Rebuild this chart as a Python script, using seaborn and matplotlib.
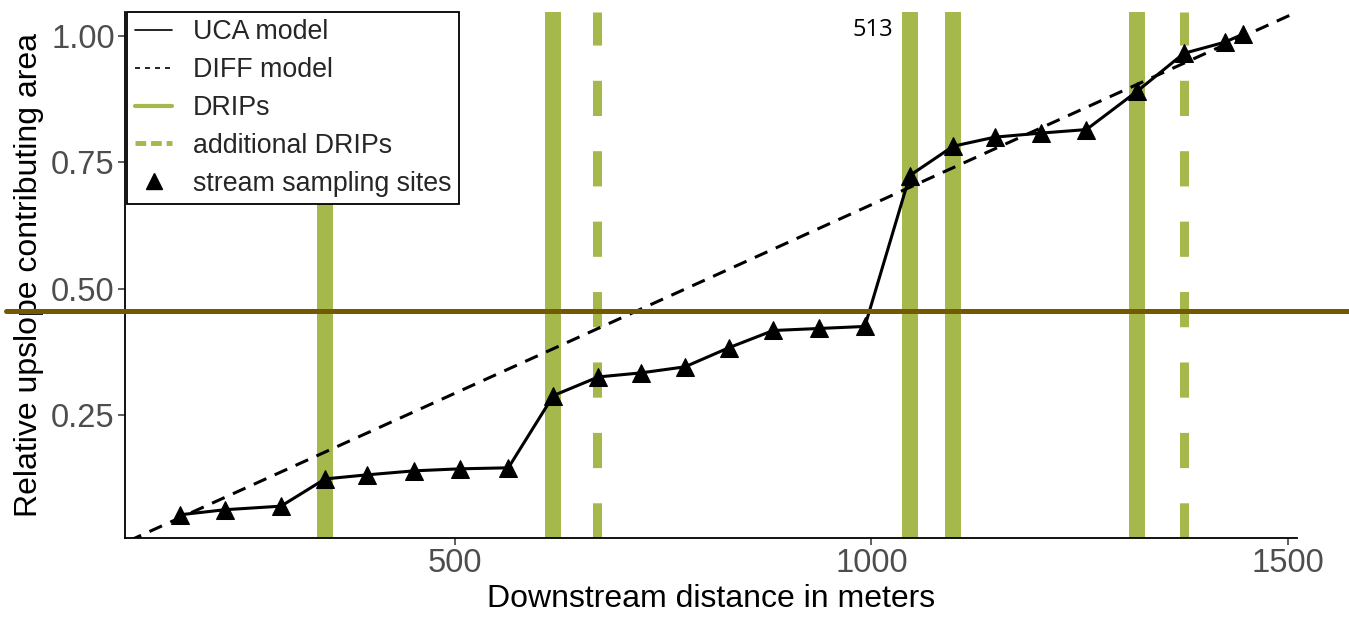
import matplotlib
matplotlib.use("Agg")
import matplotlib.pyplot as plt
import seaborn as sns
import pandas as pd
from matplotlib.lines import Line2D

sns.set_theme(style="white")
plt.rcParams['font.family'] = ['Liberation Sans', 'DejaVu Sans']

# stream sampling sites (UCA model)
site_x = [170, 224, 291, 344, 394, 451, 506, 564, 618, 672, 723, 776, 829, 882,
          937, 992, 1046, 1098, 1148, 1203, 1258, 1319, 1375, 1424, 1446]
site_y = [0.052, 0.062, 0.069, 0.123, 0.131, 0.139, 0.143, 0.145, 0.288, 0.325,
          0.333, 0.345, 0.383, 0.417, 0.421, 0.425, 0.724, 0.782, 0.800, 0.808,
          0.815, 0.891, 0.966, 0.988, 1.004]

# DIFF model (straight line)
diff_x = [108, 1511]
diff_y = [0.0, 1.048]

# DRIP positions
drips = [344, 618, 1046, 1098, 1319]
add_drips = [671, 1375]

marker_line_y = 0.456
note_text = "513"

green = "#a4b84c"
brown = "#735a00"

df = pd.DataFrame({"x": site_x, "y": site_y})
df_diff = pd.DataFrame({"x": diff_x, "y": diff_y})

fig = plt.figure(figsize=(13.49, 6.2), dpi=100)
ax = fig.add_axes([0.0927, 0.1323, 0.8687, 0.8484])

for d in drips:
    ax.axvline(d, color=green, lw=11.5, solid_capstyle='butt', zorder=1)
for d in add_drips:
    ax.axvline(d, color=green, lw=6.5, dashes=(3.9, 3.9), dash_capstyle='butt', zorder=1)

sns.lineplot(data=df_diff, x="x", y="y", ax=ax, color="black", lw=2.2,
             dashes=False, zorder=2).lines[-1].set_dashes((4.5, 3))
sns.lineplot(data=df, x="x", y="y", ax=ax, color="black", lw=2.2, marker="^",
             markersize=12.5, markeredgecolor="black", zorder=3)

ax.axhline(marker_line_y, xmin=-0.102, xmax=1.05, color=brown, lw=3.6,
           clip_on=False, zorder=5)

ax.text(1026, 1.012, note_text, ha="right", va="center", fontsize=17,
        family=['Open Sans', 'DejaVu Sans'], color="black")

ax.set_xlim(103.8, 1510.8)
ax.set_ylim(0.006, 1.048)
ax.set_xticks([500, 1000, 1500])
ax.set_yticks([0.25, 0.5, 0.75, 1.0])
ax.set_yticklabels(["0.25", "0.50", "0.75", "1.00"])

for s in ["top", "right"]:
    ax.spines[s].set_visible(False)
for s in ["left", "bottom"]:
    ax.spines[s].set_color("black")
    ax.spines[s].set_linewidth(1.3)
ax.tick_params(axis="both", which="major", length=5, width=1.1, color="#333333",
               labelcolor="#4d4d4d", labelsize=23.5, pad=2.5, left=True, bottom=True)

ax.set_xlabel("Downstream distance in meters", fontsize=23, color="black")
ax.set_ylabel("Relative upslope contributing area", fontsize=23, color="black")
ax.xaxis.set_label_coords(0.5, -0.088)
ax.yaxis.set_label_coords(-0.069, 0.5)

handles = [
    Line2D([], [], color="black", lw=1.2),
    Line2D([], [], color="black", lw=1.2, dashes=(3, 3)),
    Line2D([], [], color=green, lw=3),
    Line2D([], [], color=green, lw=3.5, dashes=(2.2, 1)),
    Line2D([], [], color="black", lw=0, marker="^", markersize=11),
]
labels = ["UCA model", "DIFF model", "DRIPs", "additional DRIPs", "stream sampling sites"]
leg = ax.legend(handles, labels, loc="upper left", bbox_to_anchor=(0.002, 1.0),
                borderaxespad=0, fontsize=19.3, frameon=True, fancybox=False,
                edgecolor="black", framealpha=1, handlelength=1.4,
                handletextpad=0.75, borderpad=0.28, labelspacing=0.44)
leg.get_frame().set_linewidth(1.3)
leg.set_zorder(10)

fig.savefig("out.png", dpi=100)
